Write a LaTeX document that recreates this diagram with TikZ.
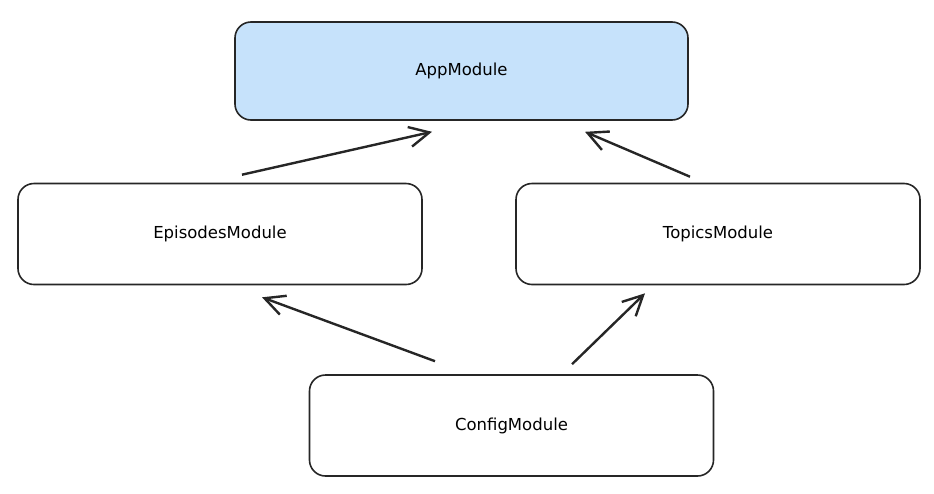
\documentclass[tikz,border=0pt]{standalone}
\usepackage{fontspec}
\setmainfont{DejaVu Sans}
\usetikzlibrary{arrows.meta,calc}
\tikzset{>={Straight Barb[length=20pt,width=20pt,line width=2.4pt]}}
\definecolor{appblue}{RGB}{198,226,251}

\begin{document}
\begin{tikzpicture}[x=1pt,y=-1pt,
  module/.style={draw=black!85,line width=1.6pt,rounded corners=16pt,minimum width=404pt,minimum height=101pt,inner sep=0pt,font=\fontsize{16.5}{20}\selectfont},
  dep/.style={->,line width=2.4pt,black!85}]
\useasboundingbox (0,0) rectangle (934,493);
\node[module,fill=appblue,minimum width=453pt,minimum height=98pt] (app) at (461.5,71) {AppModule};
\node[module] (episodes) at (220,234) {EpisodesModule};
\node[module] (topics) at (718,234) {TopicsModule};
\node[module] (config) at (511.5,425.5) {ConfigModule};
\draw[dep] ($(episodes.north)+(22,-8)$) -- ($(app.south)+(-29.5,11)$);
\draw[dep] ($(topics.north)+(-28,-6)$) -- ($(app.south)+(123.5,11)$);
\draw[dep] ($(config.north)+(-76.5,-13)$) -- ($(episodes.south)+(42,12)$);
\draw[dep] ($(config.north)+(60.5,-10)$) -- ($(topics.south)+(-73,8)$);
\end{tikzpicture}
\end{document}
